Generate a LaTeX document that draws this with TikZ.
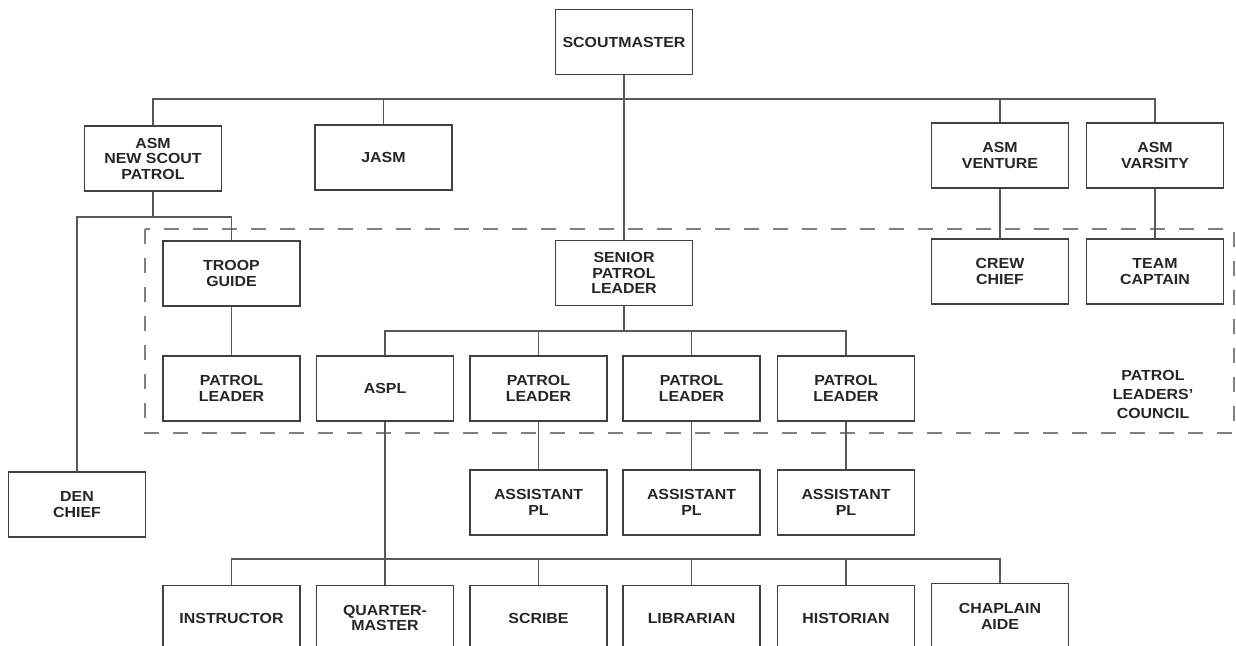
\documentclass[tikz,border=0pt]{standalone}
\usepackage{fontspec}
\setmainfont{Liberation Sans}[FakeStretch=1.09]
\begin{document}
\begin{tikzpicture}[x=1pt,y=-1pt,
  box/.style={draw=black!75, line width=1.3pt, rectangle, inner sep=0pt,
    minimum width=137pt, minimum height=65pt, align=center,
    font=\fontsize{14.6}{15.5}\selectfont\bfseries, text=black!85},
  conn/.style={draw=black!65, line width=1.2pt},
  council/.style={draw=black!50, line width=1.3pt, dash pattern=on 15pt off 14pt}]
\useasboundingbox (0,0) rectangle (1236,645);
\clip (0,0) rectangle (1236,645);
% top
\node[box] (sm) at (624,42) {SCOUTMASTER};
\node[box] (asmn) at (153,158.5) {ASM\\NEW SCOUT\\PATROL};
\node[box] (jasm) at (383.5,157.5) {JASM};
\node[box] (asmv) at (1000,155.5) {ASM\\VENTURE};
\node[box] (asmvar) at (1155,155.5) {ASM\\VARSITY};
% second level
\node[box] (tg) at (231.5,273.5) {TROOP\\GUIDE};
\node[box] (spl) at (624,273) {SENIOR\\PATROL\\LEADER};
\node[box] (cc) at (1000,271.5) {CREW\\CHIEF};
\node[box] (tc) at (1155,271.5) {TEAM\\CAPTAIN};
% patrol leaders row
\node[box] (pl1) at (231.5,388.5) {PATROL\\LEADER};
\node[box] (aspl) at (385,388.5) {ASPL};
\node[box] (pl2) at (538.5,388.5) {PATROL\\LEADER};
\node[box] (pl3) at (691.5,388.5) {PATROL\\LEADER};
\node[box] (pl4) at (846,388.5) {PATROL\\LEADER};
% assistants
\node[box] (den) at (77,504.5) {DEN\\CHIEF};
\node[box] (apl1) at (538.5,502.5) {ASSISTANT\\PL};
\node[box] (apl2) at (691.5,502.5) {ASSISTANT\\PL};
\node[box] (apl3) at (846,502.5) {ASSISTANT\\PL};
% bottom row
\node[box, anchor=north] (ins) at (231.5,585) {INSTRUCTOR};
\node[box, anchor=north] (qm) at (385,585) {QUARTER-\\MASTER};
\node[box, anchor=north] (scr) at (538.5,585) {SCRIBE};
\node[box, anchor=north] (lib) at (691.5,585) {LIBRARIAN};
\node[box, anchor=north] (his) at (846,585) {HISTORIAN};
\node[box, anchor=north] (cha) at (1000,583) {CHAPLAIN\\AIDE};
% council label
\node[align=center, font=\fontsize{14.6}{19}\selectfont\bfseries, text=black!85] (plc) at (1153,394) {PATROL\\LEADERS'\\COUNCIL};
% dashed frame
\draw[council] (145,229) rectangle (1234,433);
% junction coordinates
\coordinate (h1) at (0,99);
\coordinate (h2) at (0,217);
\coordinate (h3) at (0,331);
\coordinate (h4) at (0,559);
% connectors
\draw[conn] (sm.south) -- (spl.north);
\draw[conn] (asmn.north) -- (asmn.north |- h1) -| (asmvar.north);
\draw[conn] (jasm.north) -- (jasm.north |- h1);
\draw[conn] (asmv.north) -- (asmv.north |- h1);
\draw[conn] (asmn.south) -- (asmn.south |- h2);
\draw[conn] (den.north) -- (den.north |- h2) -| (tg.north);
\draw[conn] (tg.south) -- (pl1.north);
\draw[conn] (spl.south) -- (spl.south |- h3);
\draw[conn] (aspl.north) -- (aspl.north |- h3) -| (pl4.north);
\draw[conn] (pl2.north) -- (pl2.north |- h3);
\draw[conn] (pl3.north) -- (pl3.north |- h3);
\draw[conn] (pl2.south) -- (apl1.north);
\draw[conn] (pl3.south) -- (apl2.north);
\draw[conn] (pl4.south) -- (apl3.north);
\draw[conn] (asmv.south) -- (cc.north);
\draw[conn] (asmvar.south) -- (tc.north);
\draw[conn] (aspl.south) -- (qm.north);
\draw[conn] (ins.north) -- (ins.north |- h4) -| (cha.north);
\draw[conn] (scr.north) -- (scr.north |- h4);
\draw[conn] (lib.north) -- (lib.north |- h4);
\draw[conn] (his.north) -- (his.north |- h4);
\end{tikzpicture}
\end{document}
